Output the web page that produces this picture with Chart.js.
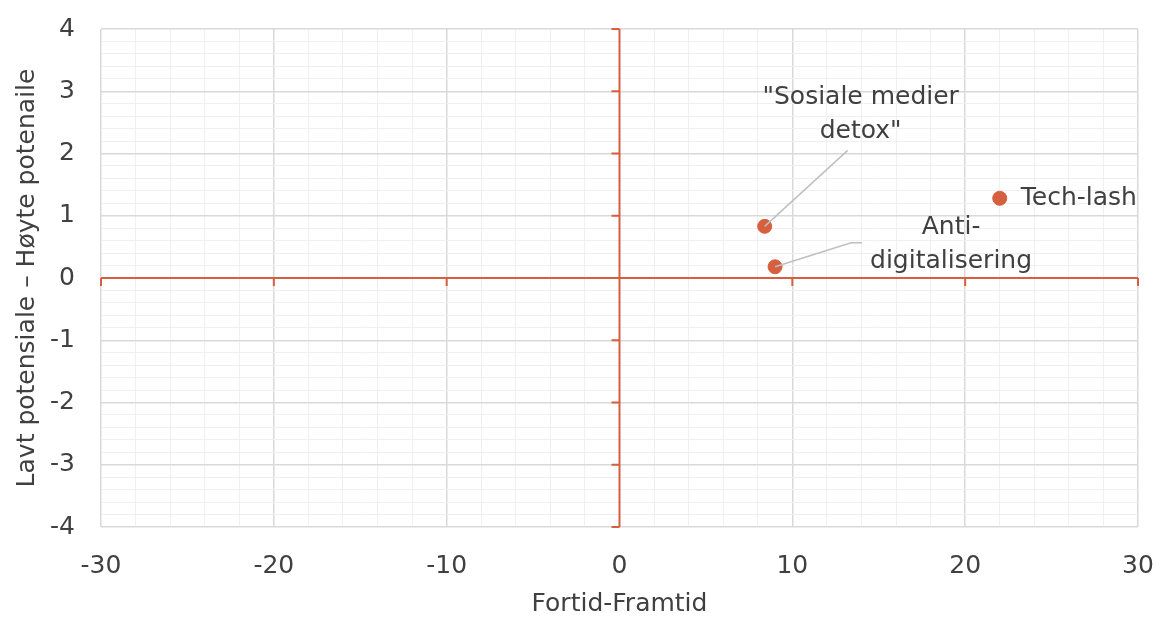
<!DOCTYPE html>
<html>
<head>
<meta charset="utf-8">
<script src="https://cdn.jsdelivr.net/npm/chart.js@4.4.1/dist/chart.umd.min.js"></script>
<style>
  html, body { margin: 0; padding: 0; background: #fff; }
  #wrap { width: 1160px; height: 619px; }
</style>
</head>
<body>
<div id="wrap"><canvas id="chart"></canvas></div>
<script>
// data
const pointNames = ["\"Sosiale medier detox\"", "Anti-digitalisering", "Tech-lash"];
const xValues = [8.4, 9.0, 22.0];
const yValues = [0.83, 0.18, 1.28];

const xMin = -30, xMax = 30, xMajor = 10, xMinor = 2;
const yMin = -4, yMax = 4, yMajor = 1, yMinor = 0.2;

const xTitle = "Fortid-Framtid";
const yTitle = "Lavt potensiale \u2013 H\u00f8yte potenaile";

// label layout (pixel offsets from each point)
const labelStyles = [
  { lines: ["\"Sosiale medier", "detox\""], align: "center", dx: 96, dy: -129, leader: [[83, -76]] },
  { lines: ["Anti-", "digitalisering"], align: "center", dx: 176, dy: -39, leader: [[76, -24], [87, -24]] },
  { lines: ["Tech-lash"], align: "left", dx: 21, dy: 0, leader: null }
];

const FONT = "'DejaVu Sans', Verdana, sans-serif";
const FSIZE = 25;
const TEXT = "#404040";
const ORANGE = "#d65f3f";

const isMult = (v, step) => Math.abs(v / step - Math.round(v / step)) < 1e-6;

const axesPlugin = {
  id: "orangeAxes",
  beforeDatasetsDraw(chart) {
    const { ctx, scales: { x, y } } = chart;
    const x0 = x.getPixelForValue(0);
    const y0 = y.getPixelForValue(0);
    ctx.save();
    ctx.strokeStyle = ORANGE;
    ctx.lineWidth = 2;
    ctx.beginPath();
    ctx.moveTo(x.getPixelForValue(xMin), y0);
    ctx.lineTo(x.getPixelForValue(xMax), y0);
    ctx.moveTo(x0, y.getPixelForValue(yMax));
    ctx.lineTo(x0, y.getPixelForValue(yMin));
    for (let v = xMin; v <= xMax; v += xMajor) {
      const px = x.getPixelForValue(v);
      ctx.moveTo(px, y0);
      ctx.lineTo(px, y0 + 8);
    }
    for (let v = yMin; v <= yMax; v += yMajor) {
      const py = y.getPixelForValue(v);
      ctx.moveTo(x0, py);
      ctx.lineTo(x0 - 8, py);
    }
    ctx.stroke();
    ctx.restore();
  }
};

const labelPlugin = {
  id: "pointLabels",
  afterDatasetsDraw(chart) {
    const { ctx } = chart;
    const meta = chart.getDatasetMeta(0);
    ctx.save();
    ctx.font = FSIZE + "px " + FONT;
    ctx.textBaseline = "middle";
    meta.data.forEach((pt, i) => {
      const s = labelStyles[i];
      if (s.leader) {
        ctx.strokeStyle = "#bfbfbf";
        ctx.lineWidth = 1.5;
        ctx.beginPath();
        ctx.moveTo(pt.x, pt.y);
        s.leader.forEach(p => ctx.lineTo(pt.x + p[0], pt.y + p[1]));
        ctx.stroke();
      }
      ctx.fillStyle = TEXT;
      ctx.textAlign = s.align;
      s.lines.forEach((line, j) => {
        ctx.fillText(line, pt.x + s.dx, pt.y + s.dy + j * 34);
      });
    });
    ctx.restore();
  }
};

new Chart(document.getElementById("chart"), {
  type: "scatter",
  data: {
    datasets: [{
      label: "Trender",
      data: xValues.map((v, i) => ({ x: v, y: yValues[i], name: pointNames[i] })),
      backgroundColor: ORANGE,
      borderColor: ORANGE,
      pointRadius: 7,
      pointHoverRadius: 7
    }]
  },
  options: {
    responsive: true,
    maintainAspectRatio: false,
    animation: false,
    layout: { padding: { top: 29, right: 22, left: 0, bottom: 0 } },
    plugins: {
      legend: { display: false },
      tooltip: { enabled: false }
    },
    scales: {
      x: {
        type: "linear",
        min: xMin,
        max: xMax,
        ticks: {
          stepSize: xMinor,
          autoSkip: false,
          maxRotation: 0,
          padding: 24,
          color: TEXT,
          font: { family: FONT, size: FSIZE },
          callback: v => isMult(v, xMajor) ? v : ""
        },
        grid: {
          drawTicks: false,
          color: c => isMult(c.tick.value, xMajor) ? (c.tick.value === 0 ? "rgba(0,0,0,0)" : "#d9d9d9") : "#f0f0f0",
          lineWidth: c => isMult(c.tick.value, xMajor) ? 1.5 : 1
        },
        border: { display: false },
        title: {
          display: true,
          text: xTitle,
          color: TEXT,
          font: { family: FONT, size: FSIZE },
          padding: { top: 4, bottom: 0 }
        },
        afterFit: s => { s.height = 92; s.paddingLeft = 0; s.paddingRight = 0; }
      },
      y: {
        type: "linear",
        min: yMin,
        max: yMax,
        ticks: {
          stepSize: yMinor,
          autoSkip: false,
          padding: 26,
          color: TEXT,
          font: { family: FONT, size: FSIZE },
          callback: v => isMult(v, yMajor) ? Math.round(v) : ""
        },
        grid: {
          drawTicks: false,
          color: c => isMult(c.tick.value, yMajor) ? (Math.abs(c.tick.value) < 1e-6 ? "rgba(0,0,0,0)" : "#d9d9d9") : "#f0f0f0",
          lineWidth: c => isMult(c.tick.value, yMajor) ? 1.5 : 1
        },
        border: { display: false },
        title: {
          display: true,
          text: yTitle,
          color: TEXT,
          font: { family: FONT, size: FSIZE },
          padding: { top: 12, bottom: 0 }
        },
        afterFit: s => { s.width = 101; s.paddingTop = 0; s.paddingBottom = 0; }
      }
    }
  },
  plugins: [axesPlugin, labelPlugin]
});
</script>
</body>
</html>
